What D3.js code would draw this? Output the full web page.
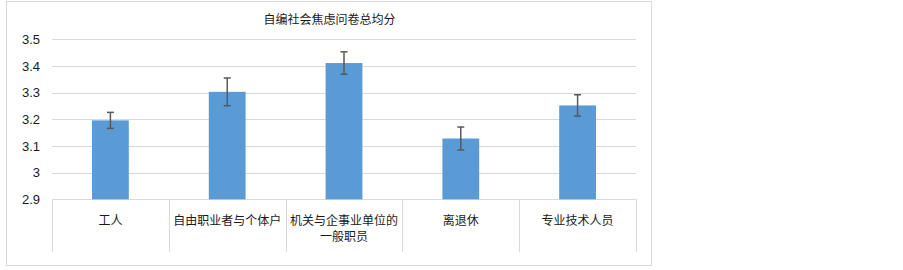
<!DOCTYPE html>
<html>
<head>
<meta charset="utf-8">
<script src="https://cdn.jsdelivr.net/npm/d3@7"></script>
<style>
  body { margin: 0; background: #fff; }
  text { font-family: "Liberation Sans", Arial, "Noto Sans CJK SC", sans-serif; }
</style>
</head>
<body>
<div id="tu"></div>
<script>
const genislik = 903;
const yukseklik = 270;

// Veriler
const kategoriler = ["工人", "自由职业者与个体户", "机关与企事业单位的一般职员", "离退休", "专业技术人员"];
const etiketSatirlari = [["工人"], ["自由职业者与个体户"], ["机关与企事业单位的", "一般职员"], ["离退休"], ["专业技术人员"]];
const ortalamalar = [3.196, 3.303, 3.411, 3.128, 3.252];
const hatalar = [0.030, 0.052, 0.042, 0.043, 0.040];
const eksenTikleri = [2.9, 3.0, 3.1, 3.2, 3.3, 3.4, 3.5];
const baslik = "自编社会焦虑问卷总均分";

const svg = d3.select("#tu")
  .append("svg")
  .attr("width", genislik)
  .attr("height", yukseklik);

// Dis cerceve
svg.append("rect")
  .attr("x", 6.5).attr("y", 1.5)
  .attr("width", 645).attr("height", 264)
  .attr("fill", "#fff")
  .attr("stroke", "#d9d9d9");

const kenar = { sol: 52, sag: 636, ust: 39.3, alt: 199.3 };

const x = d3.scaleBand()
  .domain(kategoriler)
  .range([kenar.sol, kenar.sag])
  .paddingInner(0).paddingOuter(0);

const y = d3.scaleLinear()
  .domain([2.9, 3.5])
  .range([kenar.alt, kenar.ust]);

// Izgara
svg.append("g")
  .selectAll("line")
  .data(eksenTikleri)
  .enter()
  .append("line")
  .attr("x1", kenar.sol).attr("x2", kenar.sag)
  .attr("y1", d => Math.round(y(d)) + 0.5)
  .attr("y2", d => Math.round(y(d)) + 0.5)
  .attr("stroke", "#d9d9d9");

// Y ekseni etiketleri
const yEkseni = d3.axisLeft(y)
  .tickValues(eksenTikleri)
  .tickSize(0)
  .tickPadding(0)
  .tickFormat(d => d3.format("~g")(d));

svg.append("g")
  .attr("transform", `translate(${kenar.sol - 12},0)`)
  .call(yEkseni)
  .call(g => g.select(".domain").remove())
  .selectAll("text")
  .attr("font-size", 13)
  .attr("fill", "#1a1a1a")
  .attr("font-family", "'Liberation Sans', Arial, sans-serif");

// Kategori bolme cizgileri
const sinirlar = kategoriler.map(k => x(k)).concat([kenar.sag]);
svg.append("g")
  .selectAll("line")
  .data(sinirlar)
  .enter()
  .append("line")
  .attr("x1", d => Math.round(d) + 0.5).attr("x2", d => Math.round(d) + 0.5)
  .attr("y1", kenar.alt).attr("y2", 252)
  .attr("stroke", "#d9d9d9");

// Cubuklar
const cubukGenislik = x.bandwidth() * 0.315;
svg.append("g")
  .selectAll("rect")
  .data(kategoriler)
  .enter()
  .append("rect")
  .attr("x", d => x(d) + (x.bandwidth() - cubukGenislik) / 2)
  .attr("y", (d, i) => y(ortalamalar[i]))
  .attr("width", cubukGenislik)
  .attr("height", (d, i) => y(2.9) - y(ortalamalar[i]))
  .attr("fill", "#5b9bd5");

// Hata cubuklari
const hataGrubu = svg.append("g")
  .attr("stroke", "#595959")
  .attr("stroke-width", 1.5);

kategoriler.forEach((k, i) => {
  const cx = x(k) + x.bandwidth() / 2;
  const ust = y(ortalamalar[i] + hatalar[i]);
  const alt = y(ortalamalar[i] - hatalar[i]);
  hataGrubu.append("line").attr("x1", cx).attr("x2", cx).attr("y1", ust).attr("y2", alt);
  hataGrubu.append("line").attr("x1", cx - 3.5).attr("x2", cx + 3.5).attr("y1", ust).attr("y2", ust);
  hataGrubu.append("line").attr("x1", cx - 3.5).attr("x2", cx + 3.5).attr("y1", alt).attr("y2", alt);
});

// Kategori etiketleri
const etiket = svg.append("g")
  .selectAll("text")
  .data(kategoriler)
  .enter()
  .append("text")
  .attr("text-anchor", "middle")
  .attr("font-size", 12)
  .attr("fill", "#1a1a1a")
  .attr("font-family", "'Noto Sans CJK SC', sans-serif");

etiket.each(function (d, i) {
  const satirlar = etiketSatirlari[i];
  d3.select(this).selectAll("tspan")
    .data(satirlar)
    .enter()
    .append("tspan")
    .attr("x", x(d) + x.bandwidth() / 2)
    .attr("y", (s, j) => 225 + j * 16)
    .text(s => s);
});

// Baslik
svg.append("text")
  .attr("x", 329.5)
  .attr("y", 24)
  .attr("text-anchor", "middle")
  .attr("font-size", 12)
  .attr("fill", "#1a1a1a")
  .attr("font-family", "'Noto Sans CJK SC', sans-serif")
  .text(baslik);
</script>
</body>
</html>
